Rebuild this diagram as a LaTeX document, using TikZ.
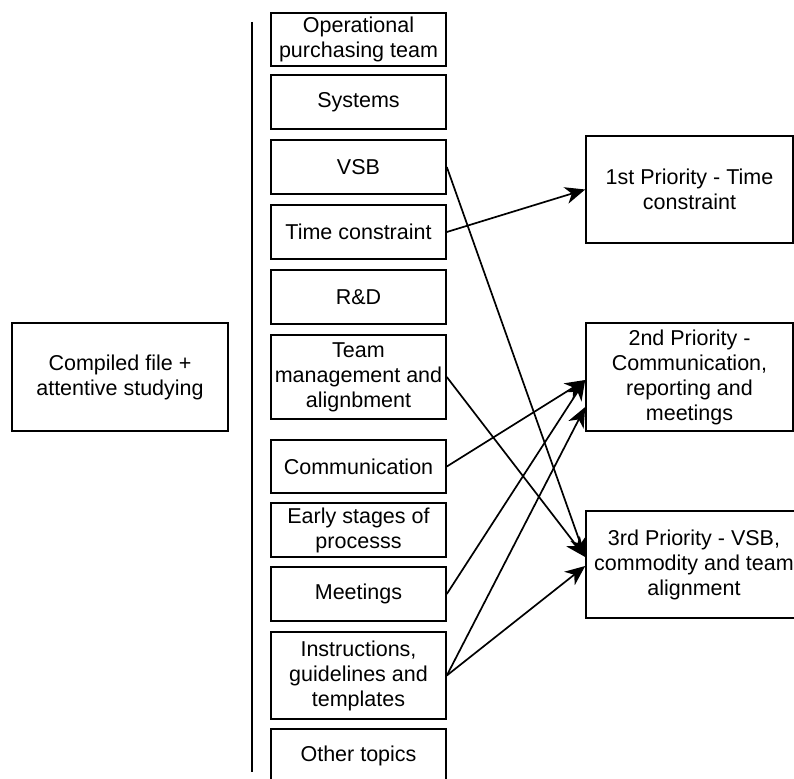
\documentclass[tikz,border=0pt]{standalone}
\usepackage{fontspec}
\setmainfont{Liberation Sans}
\usetikzlibrary{arrows.meta}
\begin{document}
\begin{tikzpicture}[x=1pt,y=-1pt,
  every node/.style={font=\fontsize{21.5}{25}\selectfont, align=center, inner sep=0pt},
  box/.style={draw=black, line width=1.6pt, rectangle},
  topic/.style={box, minimum width=175pt},
  prio/.style={box, minimum width=207pt},
  link/.style={line width=1.7pt, -{Stealth[length=20pt,width=17pt,inset=6pt]}}
]
\useasboundingbox (0,0) rectangle (794,778);
\clip (0,0) rectangle (794,778);

% source box
\node[box, minimum width=216pt, minimum height=108pt] (src) at (120,377)
  {Compiled file +\\attentive studying};

% separator
\coordinate (sepTop) at (252,22);
\coordinate (sepBot) at (252,772);
\draw[line width=1.6pt] (sepTop) -- (sepBot);

% topic column
\node[topic, minimum height=53pt] (t1) at (358.5,39.5) {Operational\\purchasing team};
\node[topic, minimum height=54pt] (t2) at (358.5,102) {Systems};
\node[topic, minimum height=54pt] (t3) at (358.5,167) {VSB};
\node[topic, minimum height=54pt] (t4) at (358.5,232) {Time constraint};
\node[topic, minimum height=54pt] (t5) at (358.5,297) {R\&D};
\node[topic, minimum height=84pt] (t6) at (358.5,377) {Team\\management and\\alignbment};
\node[topic, minimum height=53pt] (t7) at (358.5,466.5) {Communication};
\node[topic, minimum height=54pt] (t8) at (358.5,530) {Early stages of\\processs};
\node[topic, minimum height=54pt] (t9) at (358.5,594) {Meetings};
\node[topic, minimum height=87pt] (t10) at (358.5,675.5) {Instructions,\\guidelines and\\templates};
\node[topic, minimum height=54pt] (t11) at (358.5,756) {Other topics};

% priorities
\node[prio, minimum height=107pt] (p1) at (689.5,189.5) {1st Priority - Time\\constraint};
\node[prio, minimum height=108pt] (p2) at (689.5,377) {2nd Priority -\\Communication,\\reporting and\\meetings};
\node[prio, minimum width=216pt, minimum height=107pt] (p3) at (694,564.5) {3rd Priority - VSB,\\commodity and team\\alignment};

% connectors
\draw[link] (t4.east) -- (p1.west);
\draw[link] (t3.east) -- ([yshift=7.5pt]p3.west);
\draw[link] (t6.east) -- ([yshift=7.5pt]p3.west);
\draw[link] (t7.east) -- ([yshift=-3pt]p2.west);
\draw[link] (t9.east) -- ([yshift=-3pt]p2.west);
\draw[link] (t10.east) -- ([yshift=-30pt]p2.west);
\draw[link] (t10.east) -- ([yshift=-1.5pt]p3.west);
\end{tikzpicture}
\end{document}
